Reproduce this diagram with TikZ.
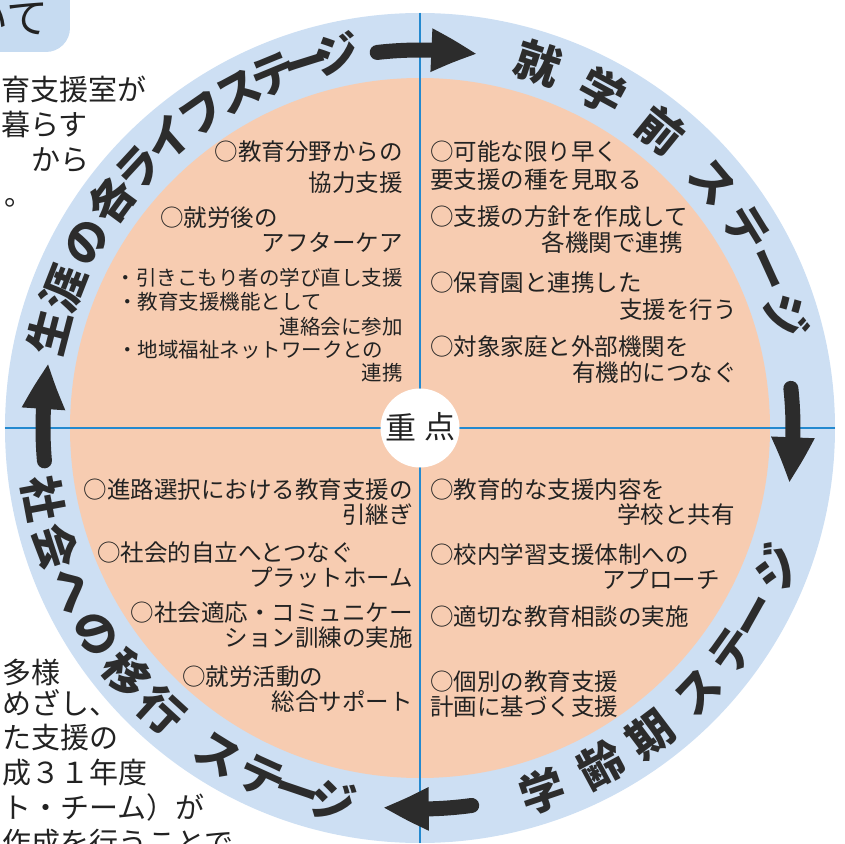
\documentclass[tikz,border=0pt]{standalone}
\usepackage{fontspec}
\newfontfamily\jp{Noto Sans CJK JP}
\usetikzlibrary{arrows.meta,bending}
\definecolor{ringblue}{HTML}{CDDFF3}
\definecolor{tabblue}{HTML}{C6DBF1}
\definecolor{peach}{HTML}{F7CCB1}
\definecolor{axisblue}{HTML}{2389CF}
\definecolor{inkdark}{HTML}{2C2C2C}
\definecolor{bodyink}{HTML}{222222}
\begin{document}
\begin{tikzpicture}[x=1pt,y=1pt,
  body/.style={font=\jp\fontsize{23.5}{26}\selectfont, text=bodyink, inner sep=0pt, text height=20.5pt, text depth=3pt},
  bullet/.style={font=\jp\fontsize{20.5}{24}\selectfont, text=bodyink, inner sep=0pt, text height=18pt, text depth=2.5pt},
  outer/.style={font=\jp\fontsize{29}{32}\selectfont, text=bodyink, inner sep=0pt, text height=25.5pt, text depth=3.5pt, anchor=west},
  ringtxt/.style={font=\jp\bfseries\fontsize{45}{45}\selectfont, text=inkdark, inner sep=0pt, text height=39.5pt, text depth=5.5pt},
  centertxt/.style={font=\jp\fontsize{31}{31}\selectfont, text=bodyink, inner sep=0pt},
  bigarrow/.style={draw=inkdark, line width=15pt, line cap=round, -{Triangle[length=46pt,width=40pt,bend]}},
  axis/.style={draw=axisblue, line width=1.6pt}
]
\clip (-420,-415) rectangle (425,428);

% background page fragments
\fill[tabblue, rounded corners=24pt] (-470,376) rectangle (-350,450);
\node[font=\jp\fontsize{42}{42}\selectfont, text=bodyink, inner sep=0pt, anchor=west] (tab) at (-454,409) {いて};
\node[outer] (o1) at (-419,338) {育支援室が};
\node[outer] (o2) at (-419,303) {暮らす};
\node[outer] (o3) at (-389,268) {から};
\node[outer] (o4) at (-416,233) {。};
\node[outer] (o5) at (-418,-244) {多様};
\node[outer] (o6) at (-418,-275) {めざし、};
\node[outer] (o7) at (-418,-309) {た支援の};
\node[outer] (o8) at (-418,-344) {成３１年度};
\node[outer] (o9) at (-418,-379) {ト・チーム）が};
\node[outer] (o10) at (-418,-414) {作成を行うことで};

% circles
\fill[ringblue] (0,0) circle[radius=415pt];
\fill[peach] (0,0) circle[radius=350pt];
\coordinate (top) at (0,415);
\coordinate (bot) at (0,-415);
\coordinate (lft) at (-415,0);
\coordinate (rgt) at (415,0);
\draw[axis] (top) -- (bot);
\draw[axis] (lft) -- (rgt);
\fill[white] (0,0) circle[radius=39.5pt];
\node[centertxt] (c1) at (-19,1) {重};
\node[centertxt] (c2) at (20,1) {点};

% ring texts
\foreach \a/\c [count=\i] in {165.5/生,158.6/涯,150.8/の,143.6/各,137.3/ラ,131/イ,124.6/フ,118.4/ス,112.4/テ,107.4/ー,102.6/ジ}
  \node[ringtxt, rotate=\a-90] (sA-\i) at (\a:383pt) {\c};
\foreach \a/\c [count=\i] in {72/就,61.5/学,51/前,40/ス,31.5/テ,24.5/ー,17/ジ}
  \node[ringtxt, rotate=\a-90] (sB-\i) at (\a:383pt) {\c};
\foreach \a/\c [count=\i] in {-71.3/学,-61.7/齢,-53/期,-43.5/ス,-35.5/テ,-29.3/ー,-21.4/ジ}
  \node[ringtxt, rotate=\a+90] (sC-\i) at (\a:383pt) {\c};
\foreach \a/\c [count=\i] in {190.6/社,198/会,204.9/へ,212.5/の,220/移,227.5/行,238.3/ス,245.6/テ,251.3/ー,256.9/ジ}
  \node[ringtxt, rotate=\a+90] (sD-\i) at (\a:383pt) {\c};

% cycle arrows
\coordinate (a1s) at (96.5:378pt);
\draw[bigarrow] (a1s) arc[start angle=96.5, end angle=81.3, radius=378pt];
\coordinate (a2s) at (6.1:373pt);
\draw[bigarrow] (a2s) arc[start angle=6.1, end angle=-8.5, radius=373pt];
\coordinate (a3s) at (-82.2:381pt);
\draw[bigarrow] (a3s) arc[start angle=-82.2, end angle=-95.6, radius=381pt];
\coordinate (a4s) at (185:377pt);
\draw[bigarrow] (a4s) arc[start angle=185, end angle=170.1, radius=377pt];

% top-left quadrant
\node[body, anchor=east] (tl1) at (-17,276) {○教育分野からの};
\node[body, anchor=east] (tl2) at (-17,245) {協力支援};
\node[body, anchor=west] (tl3) at (-260,210) {○就労後の};
\node[body, anchor=east] (tl4) at (-17,185) {アフターケア};
\node[bullet, anchor=east] (tl5) at (-17,150) {・引きこもり者の学び直し支援};
\node[bullet, anchor=west] (tl6) at (-303,126) {・教育支援機能として};
\node[bullet, anchor=east] (tl7) at (-17,101) {連絡会に参加};
\node[bullet, anchor=west] (tl8) at (-303,78) {・地域福祉ネットワークとの};
\node[bullet, anchor=east] (tl9) at (-17,55) {連携};

% top-right quadrant
\node[body, anchor=west] (tr1) at (10,276) {○可能な限り早く};
\node[body, anchor=west] (tr2) at (10,248) {要支援の種を見取る};
\node[body, anchor=west] (tr3) at (10,211) {○支援の方針を作成して};
\node[body, anchor=east] (tr4) at (263,185) {各機関で連携};
\node[body, anchor=west] (tr5) at (10,145) {○保育園と連携した};
\node[body, anchor=east] (tr6) at (317,118) {支援を行う};
\node[body, anchor=west] (tr7) at (10,81) {○対象家庭と外部機関を};
\node[body, anchor=east] (tr8) at (317,55) {有機的につなぐ};

% bottom-left quadrant
\node[body, anchor=east] (bl1) at (-7,-62) {○進路選択における教育支援の};
\node[body, anchor=east] (bl2) at (-7,-87) {引継ぎ};
\node[body, anchor=west] (bl3) at (-323,-125) {○社会的自立へとつなぐ};
\node[body, anchor=east] (bl4) at (-7,-150) {プラットホーム};
\node[body, anchor=east] (bl5) at (-7,-185) {○社会適応・コミュニケー};
\node[body, anchor=east] (bl6) at (-7,-210) {ション訓練の実施};
\node[body, anchor=west] (bl7) at (-238,-249) {○就労活動の};
\node[body, anchor=east] (bl8) at (-7,-274) {総合サポート};

% bottom-right quadrant
\node[body, anchor=west] (br1) at (10,-62) {○教育的な支援内容を};
\node[body, anchor=east] (br2) at (315,-87) {学校と共有};
\node[body, anchor=west] (br3) at (10,-127) {○校内学習支援体制への};
\node[body, anchor=east] (br4) at (300,-152) {アプローチ};
\node[body, anchor=west] (br5) at (10,-189) {○適切な教育相談の実施};
\node[body, anchor=west] (br6) at (10,-254) {○個別の教育支援};
\node[body, anchor=west] (br7) at (10,-279) {計画に基づく支援};
\end{tikzpicture}
\end{document}
